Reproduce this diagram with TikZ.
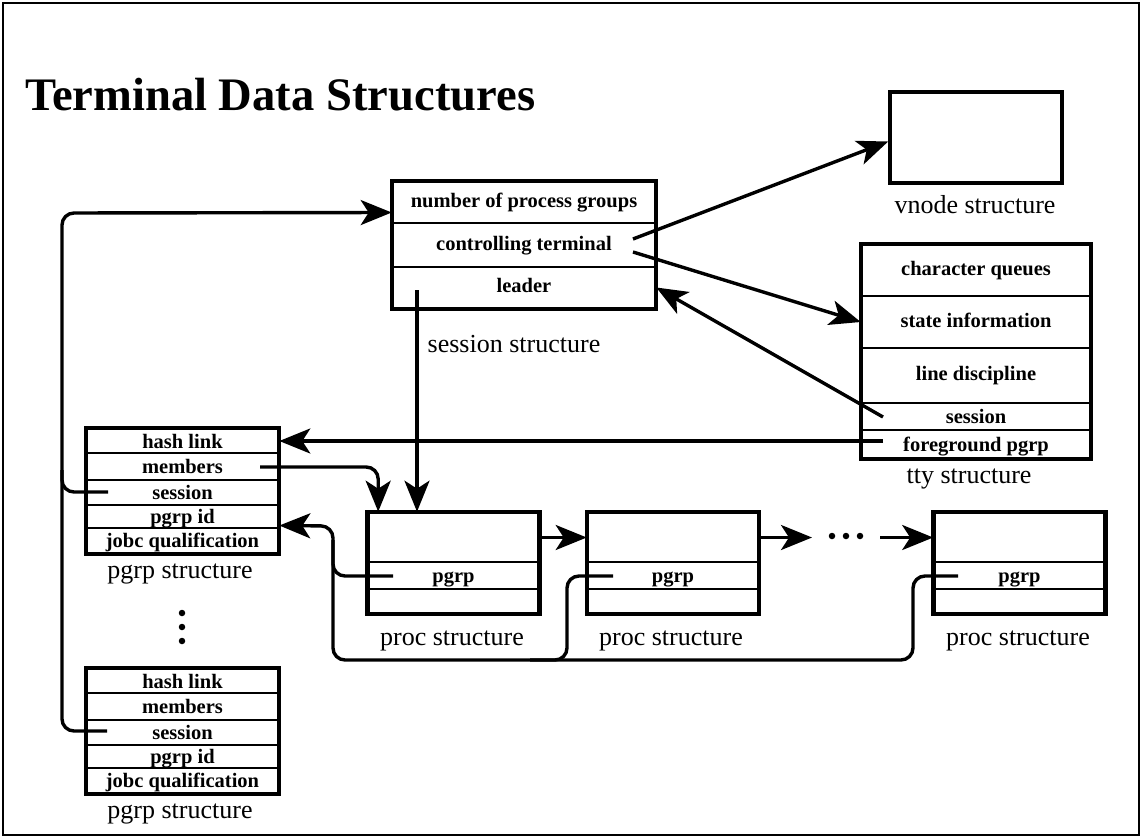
\documentclass[tikz,border=0pt]{standalone}
\usepackage{fontspec}
\setmainfont{Liberation Serif}
\usetikzlibrary{arrows.meta,calc}
\begin{document}
\begin{tikzpicture}[x=1pt,y=-1pt,
  row/.style={draw, line width=2.6pt, inner sep=0pt, text height=14pt, text depth=4pt, font=\fontsize{20.5}{20.5}\selectfont\bfseries},
  smallrow/.style={row, text depth=0pt},
  outer/.style={line width=3.6pt},
  lbl/.style={anchor=base, inner sep=0pt, font=\fontsize{26}{26}\selectfont},
  ptr/.style={line width=3.4pt, -{Stealth[length=31pt,width=25pt,inset=8pt]}},
  wire/.style={line width=3.4pt},
  dot/.style={circle, fill, inner sep=0pt, minimum size=6.5pt}]

\useasboundingbox (0,0) rectangle (1142,838);
\draw[line width=2.4pt] (3,3) rectangle (1139,835);
\node[anchor=base west, inner sep=0pt, font=\fontsize{46.6}{46.6}\selectfont\bfseries] (title) at (25,110) {Terminal Data Structures};

% session structure
\node[row, minimum width=262pt, minimum height=41pt] (s1) at (524,202.5) {number of process groups};
\node[row, minimum width=262pt, minimum height=44pt] (s2) at (524,245) {controlling terminal};
\node[row, minimum width=262pt, minimum height=41pt] (s3) at (524,287.5) {leader};
\draw[outer] (s1.north west) rectangle (s3.south east);
\node[lbl] (sl) at (514,352) {session structure};

% vnode
\node[draw, outer, minimum width=172pt, minimum height=91pt] (vn) at (976,137.5) {};
\node[lbl] (vl) at (975,213) {vnode structure};

% tty
\node[row, minimum width=228pt, minimum height=51pt] (t1) at (976,270.5) {character queues};
\node[row, minimum width=228pt, minimum height=52pt] (t2) at (976,322) {state information};
\node[row, minimum width=228pt, minimum height=55pt] (t3) at (976,375.5) {line discipline};
\node[smallrow, minimum width=228pt, minimum height=27pt] (t4) at (976,416.5) {session};
\node[smallrow, minimum width=228pt, minimum height=28pt] (t5) at (976,444) {foreground pgrp};
\draw[outer] (t1.north west) rectangle (t5.south east);
\node[lbl] (tl) at (969,483) {tty structure};

% pgrp 1
\node[smallrow, minimum width=191pt, minimum height=24pt] (p1a) at (182.5,441) {hash link};
\node[smallrow, minimum width=191pt, minimum height=27pt] (p1b) at (182.5,466.5) {members};
\node[smallrow, minimum width=191pt, minimum height=25pt] (p1c) at (182.5,492.5) {session};
\node[smallrow, minimum width=191pt, minimum height=23pt] (p1d) at (182.5,516.5) {pgrp id};
\node[smallrow, minimum width=191pt, minimum height=25pt] (p1e) at (182.5,540.5) {jobc qualification};
\draw[outer] (p1a.north west) rectangle (p1e.south east);
\node[lbl] (p1l) at (180,578) {pgrp structure};

\node[dot] (v1) at (182,613) {};
\node[dot] (v2) at (182,627) {};
\node[dot] (v3) at (182,641) {};

% pgrp 2
\node[smallrow, minimum width=191pt, minimum height=24pt] (p2a) at (182.5,681) {hash link};
\node[smallrow, minimum width=191pt, minimum height=27pt] (p2b) at (182.5,706.5) {members};
\node[smallrow, minimum width=191pt, minimum height=25pt] (p2c) at (182.5,732.5) {session};
\node[smallrow, minimum width=191pt, minimum height=23pt] (p2d) at (182.5,756.5) {pgrp id};
\node[smallrow, minimum width=191pt, minimum height=25pt] (p2e) at (182.5,780.5) {jobc qualification};
\draw[outer] (p2a.north west) rectangle (p2e.south east);
\node[lbl] (p2l) at (180,818) {pgrp structure};

% proc structures
\foreach \n/\x/\lx in {1/453.5/452, 2/673/671, 3/1019.5/1018}{
  \node[row, minimum width=170pt, minimum height=49pt] (q\n a) at (\x,537.5) {};
  \node[smallrow, minimum width=170pt, minimum height=27pt] (q\n b) at (\x,575.5) {pgrp};
  \node[row, minimum width=170pt, minimum height=24pt] (q\n c) at (\x,601) {};
  \draw[outer] (q\n a.north west) rectangle (q\n c.south east);
  \node[lbl] (q\n l) at (\lx,645) {proc structure};
}

\node[dot] (h1) at (832,536) {};
\node[dot] (h2) at (846,536) {};
\node[dot] (h3) at (860,536) {};

% coordinates
\coordinate (ct1) at (633,239);
\coordinate (ct2) at (633,252);
\coordinate (tsess) at (883,417);
\coordinate (tfg) at (883,441);
\coordinate (ld) at (417,290);
\coordinate (pg1s) at (108,492);
\coordinate (pg2s) at (107,731);
\coordinate (pgm) at (260,467);
\coordinate (lft) at (62,213);
\coordinate (lmid) at (62,470);
\coordinate (pq1) at (393,576);
\coordinate (pq2) at (613,576);
\coordinate (pq3) at (958,576);
\coordinate (nx) at (812,537.5);
\coordinate (nx2) at (880,537.5);

% connectors
\draw[ptr] (ct1) -- ($(vn.west)+(0,4)$);
\draw[ptr] (ct2) -- (t2.west);
\draw[ptr] (tsess) -- (s3.east);
\draw[ptr] (tfg) -- (p1a.east);
\draw[ptr] (ld) -- (ld |- q1a.north);
\draw[ptr, rounded corners=12pt] (pg1s) -| (lft) -- ($(s1.west)+(0,10)$);
\draw[wire, rounded corners=12pt] (pg2s) -| (lmid);
\draw[ptr, rounded corners=12pt] (pgm) -| ($(q1a.north west)+(11,0)$);
\draw[ptr] (q1a.east) -- (q2a.west);
\draw[ptr] (q2a.east) -- (nx);
\draw[ptr] (nx2) -- (q3a.west);
\draw[ptr, rounded corners=12pt] (pq3) -- (913,576) -- (913,660) -- (333,660) -- (333,526) -- ($(p1d.east)+(0,9)$);
\draw[wire, rounded corners=12pt] (pq2) -- (567,576) -- (567,660) -- (530,660);
\draw[wire, rounded corners=12pt] (pq1) -- (333,576) -- (333,540);
\end{tikzpicture}
\end{document}
